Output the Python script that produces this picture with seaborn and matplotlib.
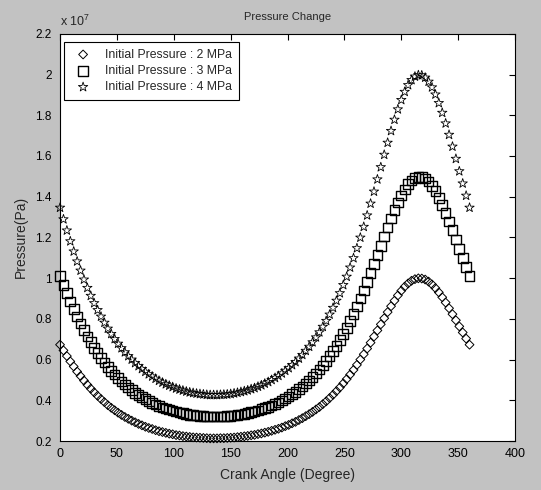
import numpy as np
import pandas as pd
import seaborn as sns
import matplotlib.pyplot as plt
from matplotlib.ticker import FuncFormatter, MultipleLocator

# Crank angle (degree), one marker every 3 degrees
angle = np.arange(0, 361, 3)

# Pressure values, in units of 1e7 Pa
p2 = [0.673, 0.645, 0.617, 0.591, 0.566, 0.541, 0.519, 0.497, 0.476, 0.457,
      0.439, 0.422, 0.406, 0.391, 0.376, 0.363, 0.351, 0.339, 0.328, 0.318,
      0.309, 0.300, 0.292, 0.284, 0.277, 0.270, 0.264, 0.259, 0.253, 0.248,
      0.244, 0.240, 0.236, 0.233, 0.229, 0.227, 0.224, 0.222, 0.220, 0.218,
      0.217, 0.216, 0.215, 0.214, 0.213, 0.213, 0.213, 0.214, 0.214, 0.215,
      0.216, 0.217, 0.219, 0.221, 0.223, 0.225, 0.228, 0.230, 0.234, 0.237,
      0.241, 0.245, 0.250, 0.255, 0.260, 0.266, 0.273, 0.279, 0.287, 0.294,
      0.303, 0.312, 0.322, 0.332, 0.343, 0.355, 0.367, 0.381, 0.395, 0.411,
      0.427, 0.445, 0.463, 0.483, 0.504, 0.526, 0.549, 0.574, 0.600, 0.626,
      0.654, 0.683, 0.713, 0.743, 0.773, 0.803, 0.833, 0.862, 0.889, 0.915,
      0.938, 0.958, 0.974, 0.987, 0.995, 0.999, 0.998, 0.993, 0.983, 0.969,
      0.951, 0.930, 0.906, 0.880, 0.852, 0.823, 0.793, 0.763, 0.733, 0.703,
      0.673]

p3 = [1.010, 0.967, 0.926, 0.886, 0.848, 0.812, 0.778, 0.745, 0.714, 0.685,
      0.658, 0.632, 0.608, 0.586, 0.564, 0.545, 0.526, 0.509, 0.492, 0.477,
      0.463, 0.450, 0.437, 0.426, 0.416, 0.405, 0.396, 0.388, 0.380, 0.372,
      0.365, 0.359, 0.354, 0.349, 0.344, 0.340, 0.336, 0.332, 0.329, 0.327,
      0.325, 0.323, 0.322, 0.320, 0.320, 0.320, 0.320, 0.320, 0.321, 0.322,
      0.323, 0.326, 0.328, 0.331, 0.334, 0.337, 0.341, 0.345, 0.350, 0.356,
      0.362, 0.368, 0.375, 0.383, 0.390, 0.399, 0.409, 0.419, 0.430, 0.441,
      0.454, 0.467, 0.482, 0.497, 0.514, 0.532, 0.551, 0.571, 0.593, 0.616,
      0.641, 0.667, 0.695, 0.725, 0.755, 0.789, 0.824, 0.860, 0.899, 0.939,
      0.981, 1.025, 1.069, 1.114, 1.159, 1.205, 1.249, 1.292, 1.334, 1.372,
      1.406, 1.436, 1.461, 1.480, 1.493, 1.498, 1.497, 1.489, 1.474, 1.453,
      1.427, 1.395, 1.359, 1.320, 1.278, 1.235, 1.190, 1.144, 1.099, 1.054,
      1.010]

p4 = [1.346, 1.289, 1.234, 1.181, 1.131, 1.082, 1.037, 0.993, 0.952, 0.913,
      0.877, 0.843, 0.811, 0.781, 0.752, 0.726, 0.701, 0.678, 0.656, 0.636,
      0.617, 0.600, 0.583, 0.568, 0.554, 0.540, 0.528, 0.517, 0.506, 0.496,
      0.487, 0.479, 0.472, 0.465, 0.458, 0.453, 0.448, 0.443, 0.439, 0.436,
      0.433, 0.431, 0.429, 0.427, 0.426, 0.426, 0.426, 0.427, 0.428, 0.429,
      0.431, 0.434, 0.437, 0.441, 0.445, 0.449, 0.455, 0.460, 0.467, 0.474,
      0.482, 0.490, 0.500, 0.510, 0.520, 0.532, 0.545, 0.558, 0.573, 0.588,
      0.605, 0.623, 0.643, 0.663, 0.685, 0.709, 0.734, 0.761, 0.790, 0.821,
      0.854, 0.889, 0.926, 0.966, 1.007, 1.052, 1.098, 1.147, 1.199, 1.252,
      1.308, 1.366, 1.425, 1.485, 1.545, 1.606, 1.665, 1.723, 1.778, 1.829,
      1.875, 1.915, 1.948, 1.973, 1.990, 1.997, 1.996, 1.985, 1.965, 1.937,
      1.902, 1.860, 1.812, 1.760, 1.704, 1.646, 1.586, 1.525, 1.465, 1.405,
      1.346]

labels = ['Initial Pressure : 2 MPa', 'Initial Pressure : 3 MPa', 'Initial Pressure : 4 MPa']

sns.set_style('white')
plt.rcParams['font.family'] = ['Liberation Sans', 'DejaVu Sans']
plt.rcParams['mathtext.default'] = 'regular'

fig = plt.figure(figsize=(5.41, 4.90), dpi=100, facecolor='#c2c2c2')
ax = fig.add_axes([0.111, 0.1, 0.841, 0.831])
ax.set_facecolor('white')

styles = [('D', 20, 0.7), ('s', 48, 1.0), ('*', 50, 0.6)]
for vals, lab, (mk, sz, lw) in zip([p2, p3, p4], labels, styles):
    sns.scatterplot(x=angle, y=vals, marker=mk, s=sz, facecolors='none',
                    edgecolor='black', linewidth=lw, label=lab, ax=ax,
                    clip_on=False, zorder=3)

ax.set_xlim(0, 400)
ax.set_ylim(0.2, 2.2)
ax.xaxis.set_major_locator(MultipleLocator(50))
ax.yaxis.set_major_locator(MultipleLocator(0.2))
ax.yaxis.set_major_formatter(FuncFormatter(lambda v, p: f'{v:g}'))
ax.tick_params(direction='in', length=4, width=0.8, top=True, right=True, colors='black')
ax.tick_params(axis='x', labelsize=9, pad=5)
ax.tick_params(axis='y', labelsize=8.5, pad=6)
for sp in ax.spines.values():
    sp.set_color('black')
    sp.set_linewidth(0.8)

ax.set_title('Pressure Change', fontsize=8, pad=10)
ax.set_xlabel('Crank Angle (Degree)', fontsize=10, labelpad=6)
ax.set_ylabel('Pressure(Pa)', fontsize=10, labelpad=5)
ax.text(0, 1.012, r'x 10$^{7}$', transform=ax.transAxes, ha='left', va='bottom', fontsize=9)

leg = ax.legend(loc='upper left', bbox_to_anchor=(0.009, 0.98), borderaxespad=0,
                fancybox=False, framealpha=1, edgecolor='black', fontsize=8.8,
                handletextpad=0.8, borderpad=0.55, labelspacing=0.35)
leg.get_frame().set_linewidth(0.8)

plt.savefig('out.png', dpi=100, facecolor=fig.get_facecolor())
